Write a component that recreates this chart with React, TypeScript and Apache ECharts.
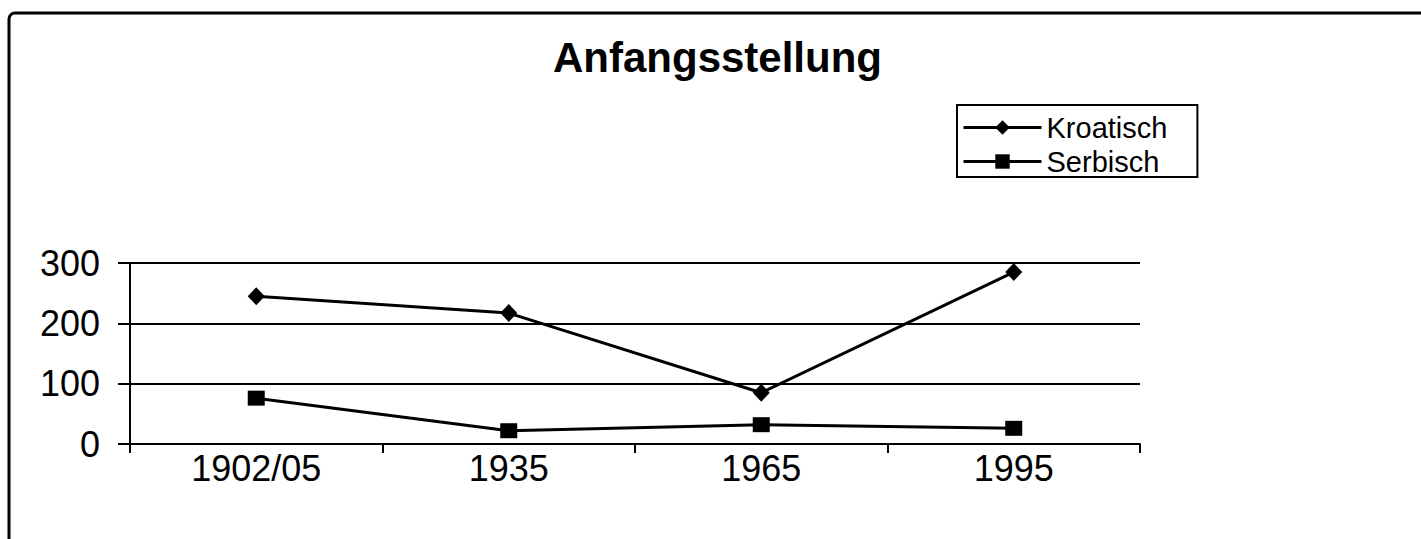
import React, { useEffect, useRef } from "react";
import * as echarts from "echarts";

const categories = ["1902/05", "1935", "1965", "1995"];
const kroatisch = [245, 217, 85, 285];
const serbisch = [76, 22, 32, 26];
const yMin = 0;
const yMax = 300;
const yStep = 100;

const FONT = "'Liberation Sans', Arial, sans-serif";

export default function App() {
  const ref = useRef<HTMLDivElement>(null);
  useEffect(() => {
    const chart = echarts.init(ref.current!, null, { renderer: "svg" });
    chart.setOption({
      animation: false,
      backgroundColor: "#ffffff",
      textStyle: { fontFamily: FONT, color: "#000" },
      title: {
        text: "Anfangsstellung",
        left: 553,
        top: 36,
        padding: 0,
        textStyle: { fontFamily: FONT, fontSize: 42, fontWeight: "bold", color: "#000" },
      },
      legend: {
        orient: "vertical",
        left: 957,
        top: 105,
        padding: [8, 30, 1, 5],
        borderColor: "#000",
        borderWidth: 2,
        itemWidth: 78,
        itemHeight: 18,
        itemGap: 5,
        lineStyle: { width: 3, color: "#000" },
        textStyle: { fontFamily: FONT, fontSize: 29, color: "#000" },
        data: ["Kroatisch", "Serbisch"],
      },
      grid: { left: 130, right: 281, top: 263, bottom: 95, containLabel: false },
      xAxis: {
        type: "category",
        data: categories,
        boundaryGap: true,
        axisLine: { show: true, lineStyle: { color: "#000", width: 2 } },
        axisTick: { show: true, interval: 0, length: 9, lineStyle: { color: "#000", width: 2 } },
        axisLabel: { fontFamily: FONT, fontSize: 36, color: "#000", margin: 6, interval: 0 },
        splitLine: { show: false },
      },
      yAxis: {
        type: "value",
        min: yMin,
        max: yMax,
        interval: yStep,
        axisLine: { show: true, lineStyle: { color: "#000", width: 2 } },
        axisTick: { show: true, length: 12, lineStyle: { color: "#000", width: 2 } },
        axisLabel: { fontFamily: FONT, fontSize: 36, color: "#000", margin: 30 },
        splitLine: { show: true, lineStyle: { color: "#000", width: 2 } },
      },
      graphic: [
        {
          type: "rect",
          x: 9,
          y: 13,
          silent: true,
          shape: { x: 0, y: 0, width: 1440, height: 560, r: 6 },
          style: { fill: "none", stroke: "#000", lineWidth: 3 },
        },
      ],
      series: [
        {
          name: "Kroatisch",
          type: "line",
          data: kroatisch,
          symbol: "diamond",
          symbolSize: [17, 18],
          lineStyle: { color: "#000", width: 3 },
          itemStyle: { color: "#000" },
        },
        {
          name: "Serbisch",
          type: "line",
          data: serbisch,
          symbol: "rect",
          symbolSize: [17, 15],
          lineStyle: { color: "#000", width: 3 },
          itemStyle: { color: "#000" },
        },
      ],
    });
    return () => chart.dispose();
  }, []);
  return (
    <div
      ref={ref}
      style={{ position: "fixed", left: 0, top: 0, width: 1421, height: 539 }}
    />
  );
}
